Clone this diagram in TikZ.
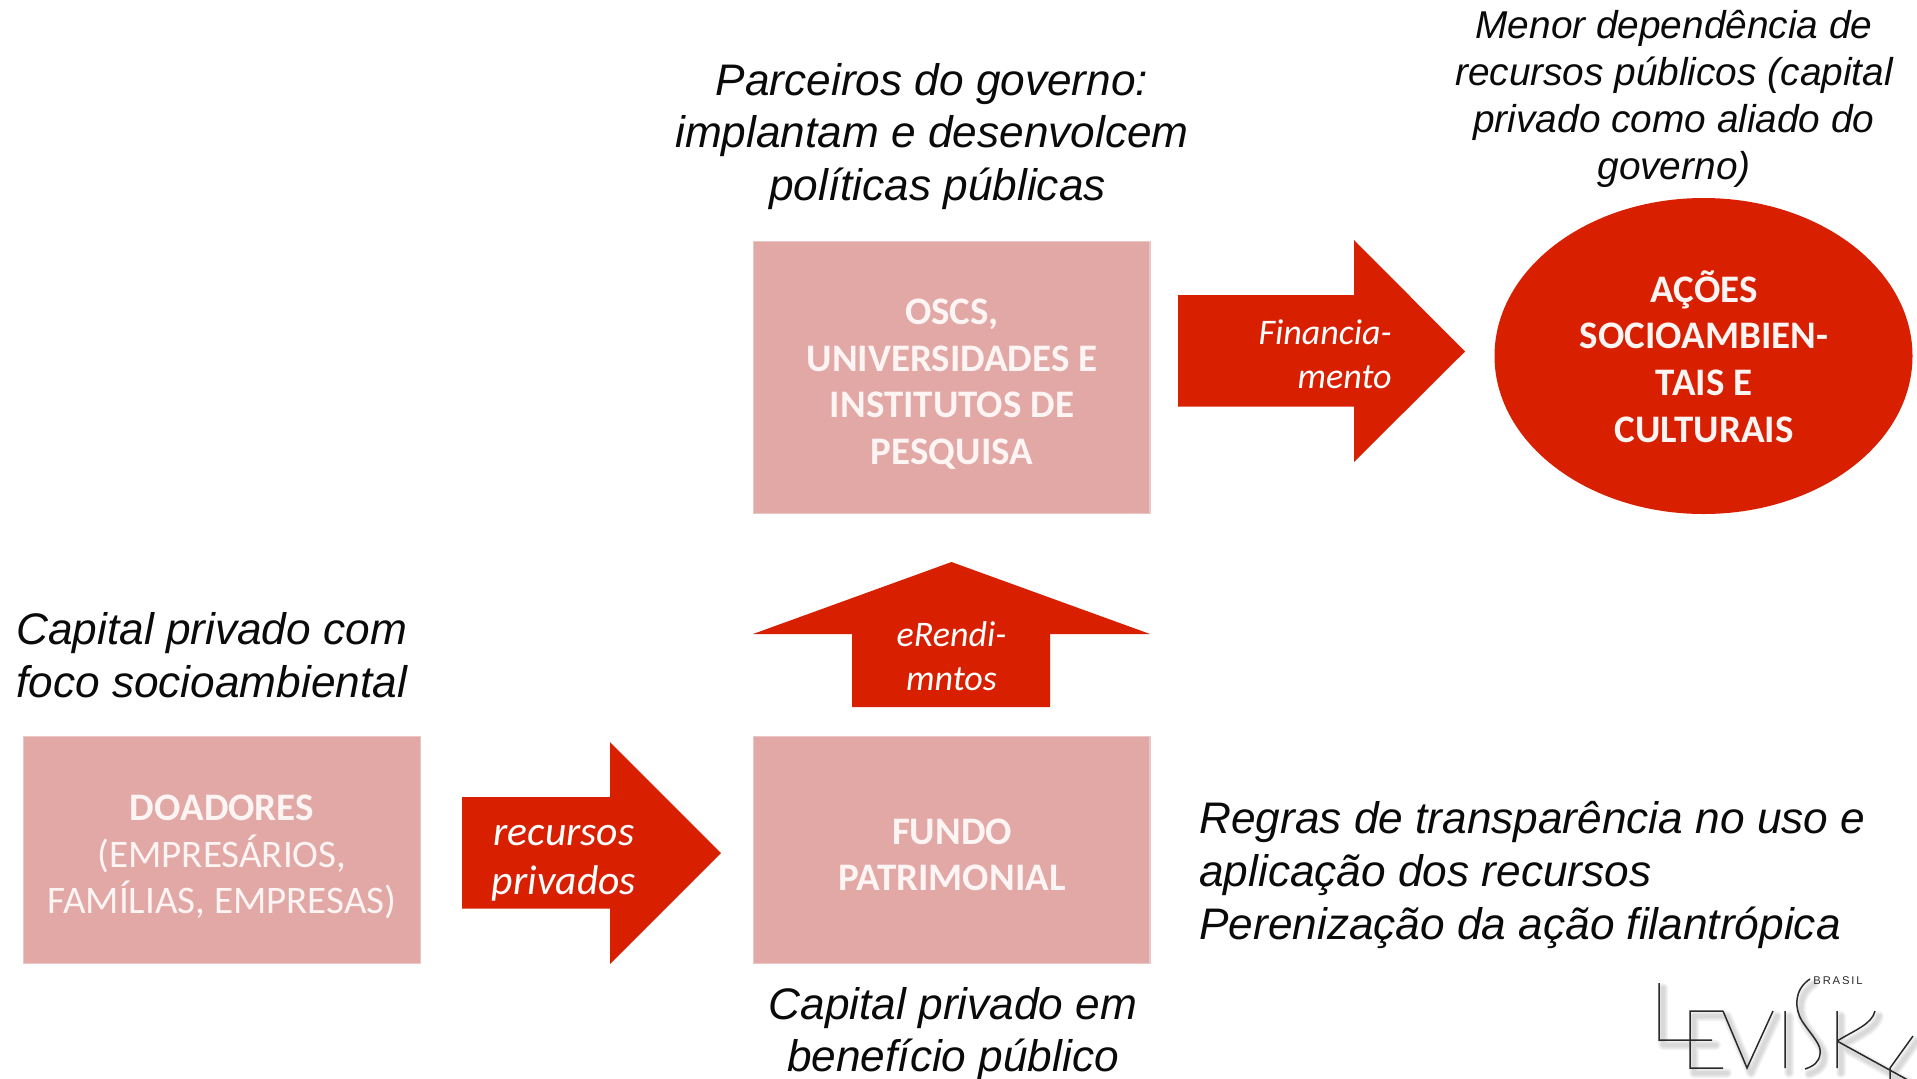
\documentclass[tikz,border=0pt]{standalone}
\usepackage{fontspec}
\usetikzlibrary{shapes.geometric}
\setmainfont{Liberation Sans}
\newfontfamily\boxfont{Carlito}
\definecolor{boxpink}{HTML}{E2A8A6}
\definecolor{boxedge}{HTML}{EAC6C4}
\definecolor{arrowred}{HTML}{D82000}
\definecolor{labelwhite}{HTML}{FDF5F4}
\definecolor{inkblack}{HTML}{0A0A0A}
\definecolor{logoink}{HTML}{2A2A2A}
\tikzset{
  x=0.5pt,y=-0.5pt,
  pinkbox/.style={fill=boxpink,draw=boxedge,line width=0.6pt},
  blockarrow/.style={fill=arrowred,draw=none},
  boxlabel/.style={text=labelwhite,align=center,inner sep=0pt,font=\boxfont\fontsize{19.5}{23.3}\selectfont},
  arrowlabel/.style={text=white,inner sep=0pt,font=\boxfont\itshape\fontsize{18}{22}\selectfont},
  notetext/.style={text=inkblack,inner sep=0pt,font=\itshape\fontsize{22.1}{26.3}\selectfont},
  smallnote/.style={text=inkblack,inner sep=0pt,align=center,font=\itshape\fontsize{19.4}{23.5}\selectfont},
  logoshadow/.style={draw=black,opacity=0.05,line cap=round,line join=round},
  logoline/.style={draw=logoink,line width=0.75pt,line join=miter},
}
\newcommand{\logopaths}{
  (1659,983) -- (1659,1040) -- (1712,1040)
  (1723,1011) -- (1690,1011) -- (1690,1068) -- (1723,1068)
  (1723,1011) -- (1747,1068) -- (1773,1011)
  (1785,1011) -- (1785,1068)
  (1810,979) .. controls (1793,990) and (1795,1010) .. (1802,1021)
  .. controls (1812,1036) and (1822,1045) .. (1820,1054)
  .. controls (1819,1062) and (1814,1066) .. (1805,1069)
  (1837,1011) -- (1837,1068)
  (1875,1011) .. controls (1872,1024) and (1855,1030) .. (1837,1041)
  (1837,1041) -- (1917,1085)
  (1913,1036) -- (1890,1068) -- (1890,1085)
}
\begin{document}
\begin{tikzpicture}
\useasboundingbox (0,0) rectangle (1917,1078);
\fill[white] (0,0) rectangle (1917,1078);

% boxes
\node (oscsbox) [pinkbox,draw,minimum width=198.2pt,minimum height=136.3pt,inner sep=0pt] at (951.7,377.5) {};
\node (fundobox) [pinkbox,draw,minimum width=198.2pt,minimum height=113.8pt,inner sep=0pt] at (951.7,850) {};
\node (doabox) [pinkbox,draw,minimum width=198.2pt,minimum height=113.8pt,inner sep=0pt] at (222,850) {};
\node (acoes) [fill=arrowred,ellipse,inner sep=0pt,minimum width=209pt,minimum height=158pt] at (1703.5,356) {};

% block arrows
\fill[blockarrow] (462,797) -- (610,797) -- (610,742) -- (721,853) -- (610,964) -- (610,908.5) -- (462,908.5) -- cycle;
\fill[blockarrow] (1178,295) -- (1354,295) -- (1354,240) -- (1465,351.5) -- (1354,462) -- (1354,406.5) -- (1178,406.5) -- cycle;
\fill[blockarrow] (951.5,562) -- (1150,634) -- (1050,634) -- (1050,707) -- (852,707) -- (852,634) -- (753,634) -- cycle;

% box labels
\node (oscstxt) [boxlabel] at (952,384) {\textbf{OSCS,}\\\textbf{UNIVERSIDADES E}\\\textbf{INSTITUTOS DE}\\\textbf{PESQUISA}};
\node (fundotxt) [boxlabel] at (952,855) {\textbf{FUNDO}\\\textbf{PATRIMONIAL}};
\node (doatxt) [boxlabel] at (222,857) {\textbf{DOADORES}\\(EMPRESÁRIOS,\\FAMÍLIAS, EMPRESAS)};
\node (acoestxt) [boxlabel] at (1704,356.5) {\textbf{AÇÕES}\\\textbf{SOCIOAMBIEN-}\\\textbf{TAIS E}\\\textbf{CULTURAIS}};

% arrow labels
\node (recursos) [arrowlabel,align=center,font=\boxfont\itshape\fontsize{20.8}{24.4}\selectfont] at (564,863) {recursos\\privados};
\node (financ) [arrowlabel,align=right,anchor=east] at (1392,354.5) {Financia-\\mento};
\node (rendi) [arrowlabel,align=center] at (951.5,656.5) {eRendi-\\mntos};

% notes
\node (n1) [notetext,align=center] at (932,136.5) {Parceiros do governo:\\implantam e desenvolcem\\\hspace*{5.5pt}políticas públicas};
\node (n2) [smallnote] at (1674,99) {Menor dependência de\\recursos públicos (capital\\privado como aliado do\\governo)};
\node (n3) [notetext,align=left,anchor=west] at (16,655) {Capital privado com\\foco socioambiental};
\node (n4) [notetext,align=center] at (953,1034) {Capital privado em\\benefício público};
\node (n5) [notetext,align=left,anchor=west] at (1199,875) {Regras de transparência no uso e\\aplicação dos recursos\\Perenização da ação filantrópica};

% logo
\begin{scope}
\clip (0,0) rectangle (1917,1078);
\begin{scope}[xshift=2pt,yshift=-2.5pt]
\draw[logoshadow,line width=5pt] \logopaths;
\draw[logoshadow,line width=3.5pt] \logopaths;
\draw[logoshadow,line width=2pt] \logopaths;
\end{scope}
\draw[logoline] \logopaths;
\node (brasil) [inner sep=0pt,text=logoink,font=\fontsize{5.6}{6}\selectfont] at (1838,981) {B\,R\,A\,S\,I\,L};
\end{scope}
\end{tikzpicture}
\end{document}
